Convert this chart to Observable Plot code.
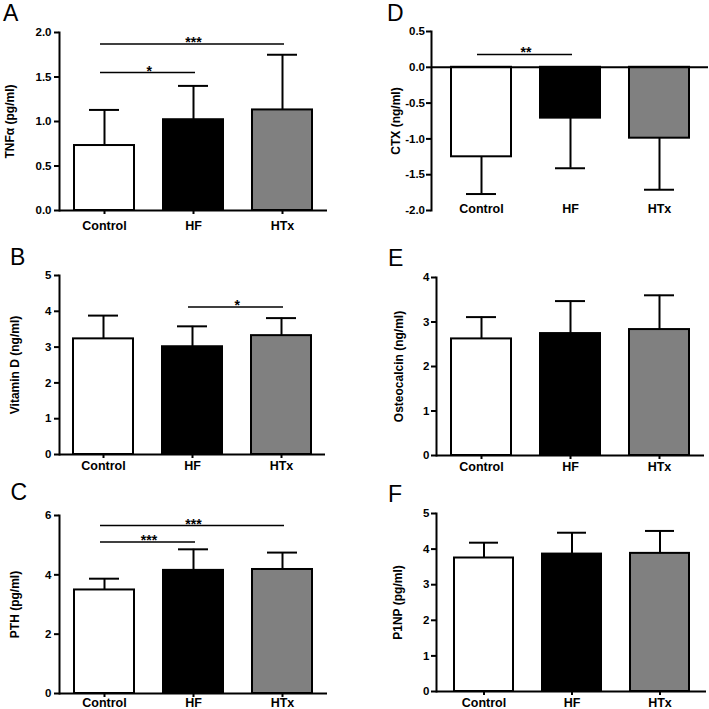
<!DOCTYPE html>
<html>
<head>
<meta charset="utf-8">
<script src="https://cdn.jsdelivr.net/npm/d3@7"></script>
<script src="https://cdn.jsdelivr.net/npm/@observablehq/plot@0.6"></script>
<style>
  body { margin: 0; background: #fff; }
  #fig { position: relative; width: 709px; height: 709px; overflow: hidden; background: #fff; }
  #fig svg { position: absolute; }
  .letter { position: absolute; font-family: "Liberation Sans", Arial, sans-serif; font-size: 23px; line-height: 1; color: #000; }
</style>
</head>
<body>
<div id="fig"></div>
<script>
// ---------- data ----------
const groups = ["Control", "HF", "HTx"];
const groupFills = ["#ffffff", "#000000", "#808080"];

// A: TNFα
const tnfMean = [0.73, 1.02, 1.13];
const tnfUpper = [1.13, 1.40, 1.75];
const tnfTicks = [0, 0.5, 1.0, 1.5, 2.0];
const tnfSig = [
  {from: "Control", to: "HF", y: 1.55, text: "*"},
  {from: "Control", to: "HTx", y: 1.87, text: "***"}
];

// B: Vitamin D
const vitdMean = [3.23, 3.01, 3.32];
const vitdUpper = [3.88, 3.58, 3.81];
const vitdTicks = [0, 1, 2, 3, 4, 5];
const vitdSig = [
  {from: "HF", to: "HTx", y: 4.12, text: "*"}
];

// C: PTH
const pthMean = [3.49, 4.15, 4.18];
const pthUpper = [3.87, 4.86, 4.75];
const pthTicks = [0, 2, 4, 6];
const pthSig = [
  {from: "Control", to: "HF", y: 5.11, text: "***"},
  {from: "Control", to: "HTx", y: 5.66, text: "***"}
];

// D: CTX
const ctxMean = [-1.25, -0.71, -0.99];
const ctxLower = [-1.77, -1.41, -1.71];
const ctxTicks = [0.5, 0.0, -0.5, -1.0, -1.5, -2.0];
const ctxSig = [
  {from: "Control", to: "HF", y: 0.18, text: "**"}
];

// E: Osteocalcin
const ostMean = [2.62, 2.74, 2.83];
const ostUpper = [3.11, 3.47, 3.60];
const ostTicks = [0, 1, 2, 3, 4];

// F: P1NP
const p1npMean = [3.75, 3.86, 3.88];
const p1npUpper = [4.18, 4.46, 4.51];
const p1npTicks = [0, 1, 2, 3, 4, 5];

// ---------- panels (layout) ----------
const panels = [
  {letter: "A", label: "TNFα (pg/ml)", mean: tnfMean, err: tnfUpper, ticks: tnfTicks, domain: [0, 2], fmt: 1, sig: tnfSig,
   left: 0, top: 0, w: 354, h: 236, ml: 59, mt: 32, mb: 26, mr: 27, po: 0.16, labOff: 49.5, xTickSize: 4, xPad: 6.5, yPad: 3,
   lx: 3, ly: 2},
  {letter: "B", label: "Vitamin D (ng/ml)", mean: vitdMean, err: vitdUpper, ticks: vitdTicks, domain: [0, 5], fmt: 0, sig: vitdSig,
   left: 0, top: 236, w: 354, h: 236, ml: 59, mt: 39, mb: 18, mr: 29, po: 0.15, labOff: 44, xTickSize: 4, xPad: 2.5, yPad: 3,
   lx: 10, ly: 245.5},
  {letter: "C", label: "PTH (pg/ml)", mean: pthMean, err: pthUpper, ticks: pthTicks, domain: [0, 6], fmt: 0, sig: pthSig,
   left: 0, top: 472, w: 354, h: 237, ml: 59, mt: 43, mb: 16, mr: 27, po: 0.17, labOff: 44, xTickSize: 4, xPad: 1, yPad: 3,
   lx: 10.5, ly: 480.5},
  {letter: "D", label: "CTX (ng/ml)", mean: ctxMean, err: ctxLower, ticks: ctxTicks, domain: [-2, 0.5], fmt: 1, sig: ctxSig,
   left: 354, top: 0, w: 355, h: 236, ml: 77, mt: 31, mb: 26, mr: 1, po: 0.22, labOff: 35, xTickSize: 0, xPad: -6.5, yPad: 1.5,
   lx: 387, ly: 2},
  {letter: "E", label: "Osteocalcin (ng/ml)", mean: ostMean, err: ostUpper, ticks: ostTicks, domain: [0, 4], fmt: 0, sig: [],
   left: 354, top: 236, w: 355, h: 236, ml: 82, mt: 41, mb: 17, mr: 5, po: 0.17, labOff: 37.5, xTickSize: 4, xPad: 2.2, yPad: 2,
   lx: 388, ly: 246.5},
  {letter: "F", label: "P1NP (pg/ml)", mean: p1npMean, err: p1npUpper, ticks: p1npTicks, domain: [0, 5], fmt: 0, sig: [],
   left: 354, top: 472, w: 355, h: 237, ml: 82, mt: 41, mb: 18, mr: 3, po: 0.19, labOff: 38.7, xTickSize: 4, xPad: 2.2, yPad: 2,
   lx: 388, ly: 482.5}
];

const PI = 0.33;
const fig = document.getElementById("fig");

for (const p of panels) {
  const rows = groups.map((g, i) => ({group: g, mean: p.mean[i], err: p.err[i]}));
  const step = (p.w - p.ml - p.mr) / (groups.length - PI + 2 * p.po);
  // significance annotations: text centred between the two groups compared
  const sigMid = [], sigHalf = [];
  for (const s of p.sig) {
    const i = groups.indexOf(s.from), j = groups.indexOf(s.to);
    if ((i + j) % 2 === 0) sigMid.push({...s, at: groups[(i + j) / 2]});
    else sigHalf.push({...s, at: groups[(i + j - 1) / 2]});
  }
  const sigText = {fontSize: 14, fontWeight: "bold", lineAnchor: "bottom", text: "text", y: "y", x: "at", dy: 3};

  const chart = Plot.plot({
    width: p.w,
    height: p.h,
    marginLeft: p.ml,
    marginRight: p.mr,
    marginTop: p.mt,
    marginBottom: p.mb,
    style: {fontFamily: "'Liberation Sans', Arial, sans-serif", fontWeight: "bold", fontSize: "11px", color: "#000", background: "transparent", overflow: "visible"},
    x: {domain: groups, paddingInner: PI, paddingOuter: p.po, label: null},
    y: {domain: p.domain, label: null},
    color: {domain: groups, range: groupFills},
    marks: [
      Plot.ruleX(rows, {x: "group", y1: "mean", y2: "err", stroke: "#000", strokeWidth: 2}),
      Plot.tickY(rows, {x: "group", y: "err", stroke: "#000", strokeWidth: 2, inset: 15}),
      Plot.barY(rows, {x: "group", y: "mean", fill: "group", stroke: "#000", strokeWidth: 2}),
      Plot.ruleY([0], {stroke: "#000", strokeWidth: 2}),
      Plot.frame({anchor: "left", stroke: "#000", strokeWidth: 2}),
      Plot.axisY({ticks: p.ticks, tickFormat: d => d.toFixed(p.fmt), tickSize: 5, tickPadding: p.yPad, strokeWidth: 2, fontSize: 11.5, label: null}),
      Plot.axisX({tickSize: p.xTickSize, tickPadding: p.xPad, strokeWidth: 2, fontSize: 12.5, label: null}),
      Plot.text([p.label], {frameAnchor: "left", rotate: -90, dx: -p.labOff, lineAnchor: "middle", textAnchor: "middle", fontSize: 12, fontWeight: "bold"}),
      Plot.ruleY(p.sig, {y: "y", x1: "from", x2: "to", insetLeft: 26, insetRight: 28, stroke: "#000", strokeWidth: 1.5}),
      Plot.text(sigMid, sigText),
      Plot.text(sigHalf, {...sigText, dx: step / 2})
    ]
  });
  chart.style.left = p.left + "px";
  chart.style.top = p.top + "px";
  fig.appendChild(chart);

  const L = document.createElement("div");
  L.className = "letter";
  L.textContent = p.letter;
  L.style.left = p.lx + "px";
  L.style.top = p.ly + "px";
  fig.appendChild(L);
}
</script>
</body>
</html>
